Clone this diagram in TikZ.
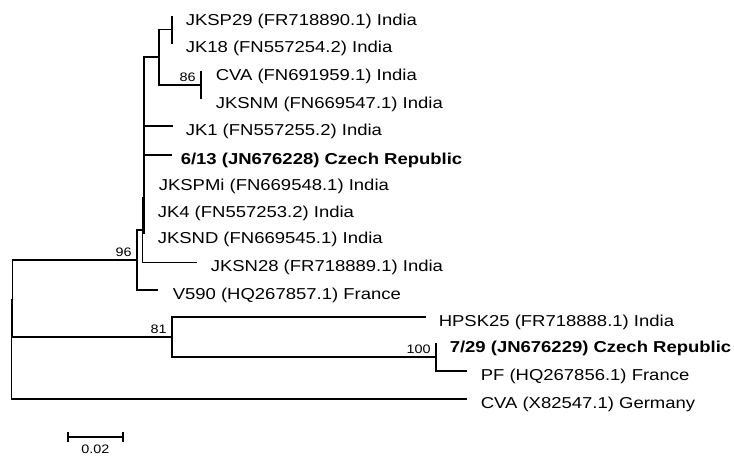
\documentclass[tikz,border=0pt]{standalone}
\usepackage{fontspec}
\setmainfont{Liberation Sans}[FakeStretch=1.17]
\usetikzlibrary{calc,positioning}

\begin{document}
\begin{tikzpicture}[x=1pt,y=-1pt,line width=1.55pt,
  lab/.style={anchor=base west,inner sep=0pt,font=\fontsize{15.8}{18}\selectfont},
  boot/.style={anchor=base east,inner sep=0pt,xshift=-4.5pt,yshift=4pt,font=\fontsize{12.3}{14}\selectfont}]
  \useasboundingbox (0,0) rectangle (734,456);
  % internal nodes
  \coordinate (R) at (11.7,299);
  \coordinate (I) at (12.7,299);
  \coordinate (D) at (137,260);
  \coordinate (C) at (142.3,230);
  \coordinate (A) at (144,198);
  \coordinate (F) at (159,57);
  \coordinate (G) at (172,29.5);
  \coordinate (H) at (201,85);
  \coordinate (E) at (172,337);
  \coordinate (K) at (436,357);
  % leaf ends
  \coordinate (l1) at (172,16);
  \coordinate (l2) at (172,43.5);
  \coordinate (l3) at (201,71);
  \coordinate (l4) at (201,99);
  \coordinate (l5) at (173,126);
  \coordinate (l6) at (172,155);
  \coordinate (l7) at (144,181);
  \coordinate (l8) at (144,208);
  \coordinate (l9) at (144,234);
  \coordinate (l10) at (197,262.5);
  \coordinate (l11) at (158,290);
  \coordinate (l12) at (426,317);
  \coordinate (l13) at (436,343);
  \coordinate (l14) at (467,371);
  \coordinate (l15) at (467,399);
  % branches
  \draw (R) -- (I);
  \draw (R) |- (l15);
  \draw (I) |- (D);
  \draw (I) |- (E);
  \draw (D) |- (C) (D) |- (l11);
  \draw (C) |- (A) (C) |- (l10);
  \draw (A) |- (F) (A) |- (l5) (A) |- (l6) (A) |- (l9);
  \draw (F) |- (G) (F) |- (H);
  \draw (G) |- (l1) (G) |- (l2);
  \draw (H) |- (l3) (H) |- (l4);
  \draw (E) |- (l12) (E) |- (K);
  \draw (K) |- (l13) (K) |- (l14);
  % taxa
  \node[lab] (t1) at ($(l1)+(13,9)$) {JKSP29 (FR718890.1) India};
  \node[lab] (t2) at ($(l2)+(13,9)$) {JK18 (FN557254.2) India};
  \node[lab] (t3) at ($(l3)+(14,9)$) {CVA (FN691959.1) India};
  \node[lab] (t4) at ($(l4)+(14,9)$) {JKSNM (FN669547.1) India};
  \node[lab] (t5) at ($(l5)+(12,9)$) {JK1 (FN557255.2) India};
  \node[lab] (t6) at ($(l6)+(8,9)$) {\textbf{6/13 (JN676228) Czech Republic}};
  \node[lab] (t7) at ($(l7)+(14,9)$) {JKSPMi (FN669548.1) India};
  \node[lab] (t8) at ($(l8)+(13,9)$) {JK4 (FN557253.2) India};
  \node[lab] (t9) at ($(l9)+(13,9)$) {JKSND (FN669545.1) India};
  \node[lab] (t10) at ($(l10)+(13,9)$) {JKSN28 (FR718889.1) India};
  \node[lab] (t11) at ($(l11)+(14,9)$) {V590 (HQ267857.1) France};
  \node[lab] (t12) at ($(l12)+(12,9)$) {HPSK25 (FR718888.1) India};
  \node[lab] (t13) at ($(l13)+(13,9)$) {\textbf{7/29 (JN676229) Czech Republic}};
  \node[lab] (t14) at ($(l14)+(13,9)$) {PF (HQ267856.1) France};
  \node[lab] (t15) at ($(l15)+(13,9)$) {CVA (X82547.1) Germany};
  % bootstrap values
  \node[boot] (b96) at (D) {96};
  \node[boot] (b86) at (H) {86};
  \node[boot] (b81) at (E) {81};
  \node[boot] (b100) at (K) {100};
  % scale bar
  \coordinate (s1) at (68,437);
  \coordinate (s2) at (123,437);
  \draw (s1) -- (s2);
  \draw ($(s1)+(0,-5)$) -- ($(s1)+(0,5)$) ($(s2)+(0,-5)$) -- ($(s2)+(0,5)$);
  \node[anchor=base,inner sep=0pt,font=\fontsize{12.3}{14}\selectfont] (sb) at ($(s1)!0.5!(s2)+(0,16)$) {0.02};
\end{tikzpicture}
\end{document}
